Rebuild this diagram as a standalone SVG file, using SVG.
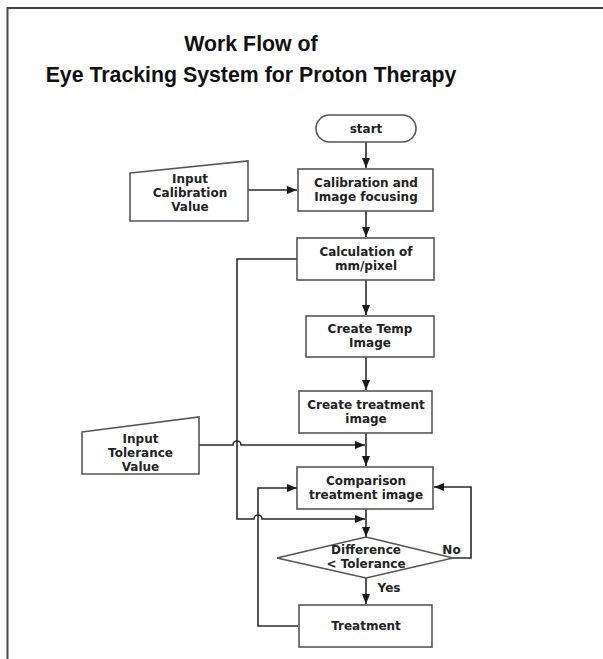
<svg xmlns="http://www.w3.org/2000/svg" width="603" height="659" viewBox="0 0 603 659">
<style>
.box{fill:#fff;stroke:#555;stroke-width:1.6}
.ln{fill:none;stroke:#2a2a2a;stroke-width:1.6}
.t{font-family:"DejaVu Sans",Verdana,sans-serif;font-weight:bold;font-size:12px;fill:#222;text-anchor:middle}
.title{font-family:"Liberation Sans",Arial,sans-serif;font-weight:bold;font-size:21.3px;fill:#111;text-anchor:middle}
</style>
<defs>
<marker id="ah" markerWidth="10" markerHeight="8" refX="10" refY="4" orient="auto" markerUnits="userSpaceOnUse">
<path d="M0,0 L10,4 L0,8 z" fill="#1a1a1a"/>
</marker>
</defs>
<rect x="0" y="0" width="603" height="659" fill="#fff"/>
<rect x="7.5" y="8" width="620" height="680" fill="none" stroke="#444" stroke-width="2"/>
<text class="title" x="251" y="51">Work Flow of</text>
<text class="title" x="251" y="82">Eye Tracking System for Proton Therapy</text>

<g id="connectors">
<path class="ln" d="M366,142 V168" marker-end="url(#ah)"/>
<path class="ln" d="M248,190 H297" marker-end="url(#ah)"/>
<path class="ln" d="M366,211 V237" marker-end="url(#ah)"/>
<path class="ln" d="M366,280 V315" marker-end="url(#ah)"/>
<path class="ln" d="M366,357 V390" marker-end="url(#ah)"/>
<path class="ln" d="M366,433 V466" marker-end="url(#ah)"/>
<path class="ln" d="M199,445 H233 a4,4 0 0 1 8,0 H365" marker-end="url(#ah)"/>
<path class="ln" d="M297,259 H237 V519 H254 a4,4 0 0 1 8,0 H365" marker-end="url(#ah)"/>
<path class="ln" d="M366,509 V537" marker-end="url(#ah)"/>
<path class="ln" d="M453,558 H471 V487 H434" marker-end="url(#ah)"/>
<path class="ln" d="M366,578 V604" marker-end="url(#ah)"/>
<path class="ln" d="M298,626 H258 V488 H297" marker-end="url(#ah)"/>
</g>

<g id="start">
<rect class="box" x="316" y="115" width="100" height="27" rx="13.5"/>
<text class="t" x="366" y="133">start</text>
</g>
<g id="input-calibration">
<path class="box" d="M130,173 L248,161 L248,221 L130,221 Z"/>
<text class="t" x="190" y="183">Input</text>
<text class="t" x="190" y="197">Calibration</text>
<text class="t" x="190" y="211">Value</text>
</g>
<g id="calibration">
<rect class="box" x="298" y="169" width="135" height="42"/>
<text class="t" x="366" y="186.5">Calibration and</text>
<text class="t" x="366" y="200.5">Image focusing</text>
</g>
<g id="calculation">
<rect class="box" x="297" y="238" width="137" height="42"/>
<text class="t" x="366" y="255.5">Calculation of</text>
<text class="t" x="366" y="269.5">mm/pixel</text>
</g>
<g id="create-temp">
<rect class="box" x="306" y="316" width="128" height="41"/>
<text class="t" x="370" y="333">Create Temp</text>
<text class="t" x="370" y="347">Image</text>
</g>
<g id="create-treatment">
<rect class="box" x="299" y="391" width="133" height="42"/>
<text class="t" x="366" y="408.5">Create treatment</text>
<text class="t" x="366" y="422.5">image</text>
</g>
<g id="input-tolerance">
<path class="box" d="M82,432 L199,417 L199,474 L82,474 Z"/>
<text class="t" x="140.5" y="443">Input</text>
<text class="t" x="140.5" y="457">Tolerance</text>
<text class="t" x="140.5" y="471">Value</text>
</g>
<g id="comparison">
<rect class="box" x="297" y="467" width="136" height="42"/>
<text class="t" x="366" y="484.5">Comparison</text>
<text class="t" x="366" y="498.5">treatment image</text>
</g>
<g id="difference">
<path class="box" d="M366,537 L453,558 L366,578 L277,558 Z"/>
<text class="t" x="366" y="554">Difference</text>
<text class="t" x="366" y="568">&lt; Tolerance</text>
<text class="t" x="451.5" y="554">No</text>
<text class="t" x="389" y="592">Yes</text>
</g>
<g id="treatment">
<rect class="box" x="299" y="605" width="133" height="42"/>
<text class="t" x="366" y="630">Treatment</text>
</g>
</svg>
